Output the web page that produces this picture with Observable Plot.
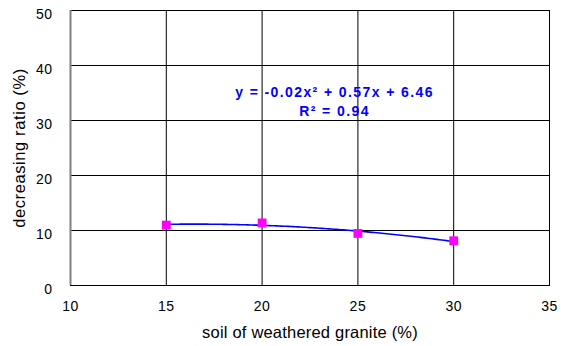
<!DOCTYPE html>
<html>
<head>
<meta charset="utf-8">
<script src="https://cdn.jsdelivr.net/npm/d3@7"></script>
<script src="https://cdn.jsdelivr.net/npm/@observablehq/plot@0.6"></script>
<style>
  html, body { margin: 0; padding: 0; background: #fff; }
  g[aria-label="x-axis tick label"] text,
  g[aria-label="y-axis tick label"] text { letter-spacing: 0.5px; }
  text[aria-label="x title"] { letter-spacing: 0.2px; }
  text[aria-label="y title"] { letter-spacing: 0.6px; }
  text[aria-label="equation"] { letter-spacing: 1.4px; }
</style>
</head>
<body>
<div id="chart"></div>
<script>
// Measured decreasing ratio against the share of weathered-granite soil
const soilPct = [15, 20, 25, 30];
const decreasingRatio = [10.98, 11.37, 9.47, 8.13];

const xTicks = [10, 15, 20, 25, 30, 35];
const yTicks = [0, 10, 20, 30, 40, 50];

const xTitle = "soil of weathered granite (%)";
const yTitle = "decreasing ratio (%)";
const equationLines = ["y = -0.02x\u00B2 + 0.57x + 6.46", "R\u00B2 = 0.94"];
const equationAt = {x: 23.78, y: 33.3};

const points = soilPct.map((x, i) => ({x, y: decreasingRatio[i]}));

// Least-squares quadratic trendline y = a + b x + c x^2
function quadFit(xs, ys) {
  const S = k => d3.sum(xs, x => x ** k);
  const T = k => d3.sum(xs, (x, i) => ys[i] * x ** k);
  const M = [
    [S(0), S(1), S(2), T(0)],
    [S(1), S(2), S(3), T(1)],
    [S(2), S(3), S(4), T(2)]
  ];
  for (let i = 0; i < 3; i++) {
    for (let j = i + 1; j < 3; j++) {
      const f = M[j][i] / M[i][i];
      for (let k = i; k < 4; k++) M[j][k] -= f * M[i][k];
    }
  }
  const c = [0, 0, 0];
  for (let i = 2; i >= 0; i--) {
    let s = M[i][3];
    for (let k = i + 1; k < 3; k++) s -= M[i][k] * c[k];
    c[i] = s / M[i][i];
  }
  return c;
}
const [a, b, c] = quadFit(soilPct, decreasingRatio);
const [x0, x1] = d3.extent(soilPct);
const trend = d3.range(0, 121).map(i => {
  const x = x0 + (x1 - x0) * i / 120;
  return {x, y: a + b * x + c * x * x};
});

const eqStyle = {
  x: () => equationAt.x, y: () => equationAt.y,
  text: d => d, fill: "#0000ff", fontWeight: "bold", fontSize: 14,
  ariaLabel: () => "equation"
};

const chart = Plot.plot({
  width: 561,
  height: 346,
  marginLeft: 70,
  marginRight: 12,
  marginTop: 10,
  marginBottom: 61,
  style: {fontFamily: "'Liberation Sans', Arial, sans-serif", fontSize: "14px", color: "#000", background: "#fff"},
  x: {domain: [xTicks[0], xTicks[xTicks.length - 1]]},
  y: {domain: [yTicks[0], yTicks[yTicks.length - 1]]},
  marks: [
    Plot.gridY(yTicks, {stroke: "#000", strokeOpacity: 1}),
    Plot.gridX(xTicks, {stroke: "#000", strokeOpacity: 1}),
    Plot.frame({stroke: "#000"}),
    Plot.ruleX([xTicks[0]], {stroke: "#808080", strokeWidth: 2}),
    Plot.axisX(xTicks, {tickSize: 0, tickPadding: 16, label: null, fontSize: 14}),
    Plot.axisY(yTicks, {tickSize: 0, tickPadding: 18, dy: 4, label: null, fontSize: 14}),
    Plot.text([xTitle], {frameAnchor: "bottom", dy: 52, fontSize: 16.5, fill: "#000", ariaLabel: () => "x title"}),
    Plot.text([yTitle], {frameAnchor: "left", textAnchor: "middle", rotate: -90, dx: -51, fontSize: 16.5, fill: "#000", ariaLabel: () => "y title"}),
    Plot.line(trend, {x: "x", y: "y", stroke: "#0000ff", strokeWidth: 1.6}),
    Plot.dot(points, {x: "x", y: "y", symbol: "square", r: 5, fill: "#ff00ff", stroke: "none"}),
    Plot.text([equationLines[0]], {...eqStyle, dy: -9.6}),
    Plot.text([equationLines[1]], {...eqStyle, dy: 9.6})
  ]
});
document.getElementById("chart").appendChild(chart);
</script>
</body>
</html>
